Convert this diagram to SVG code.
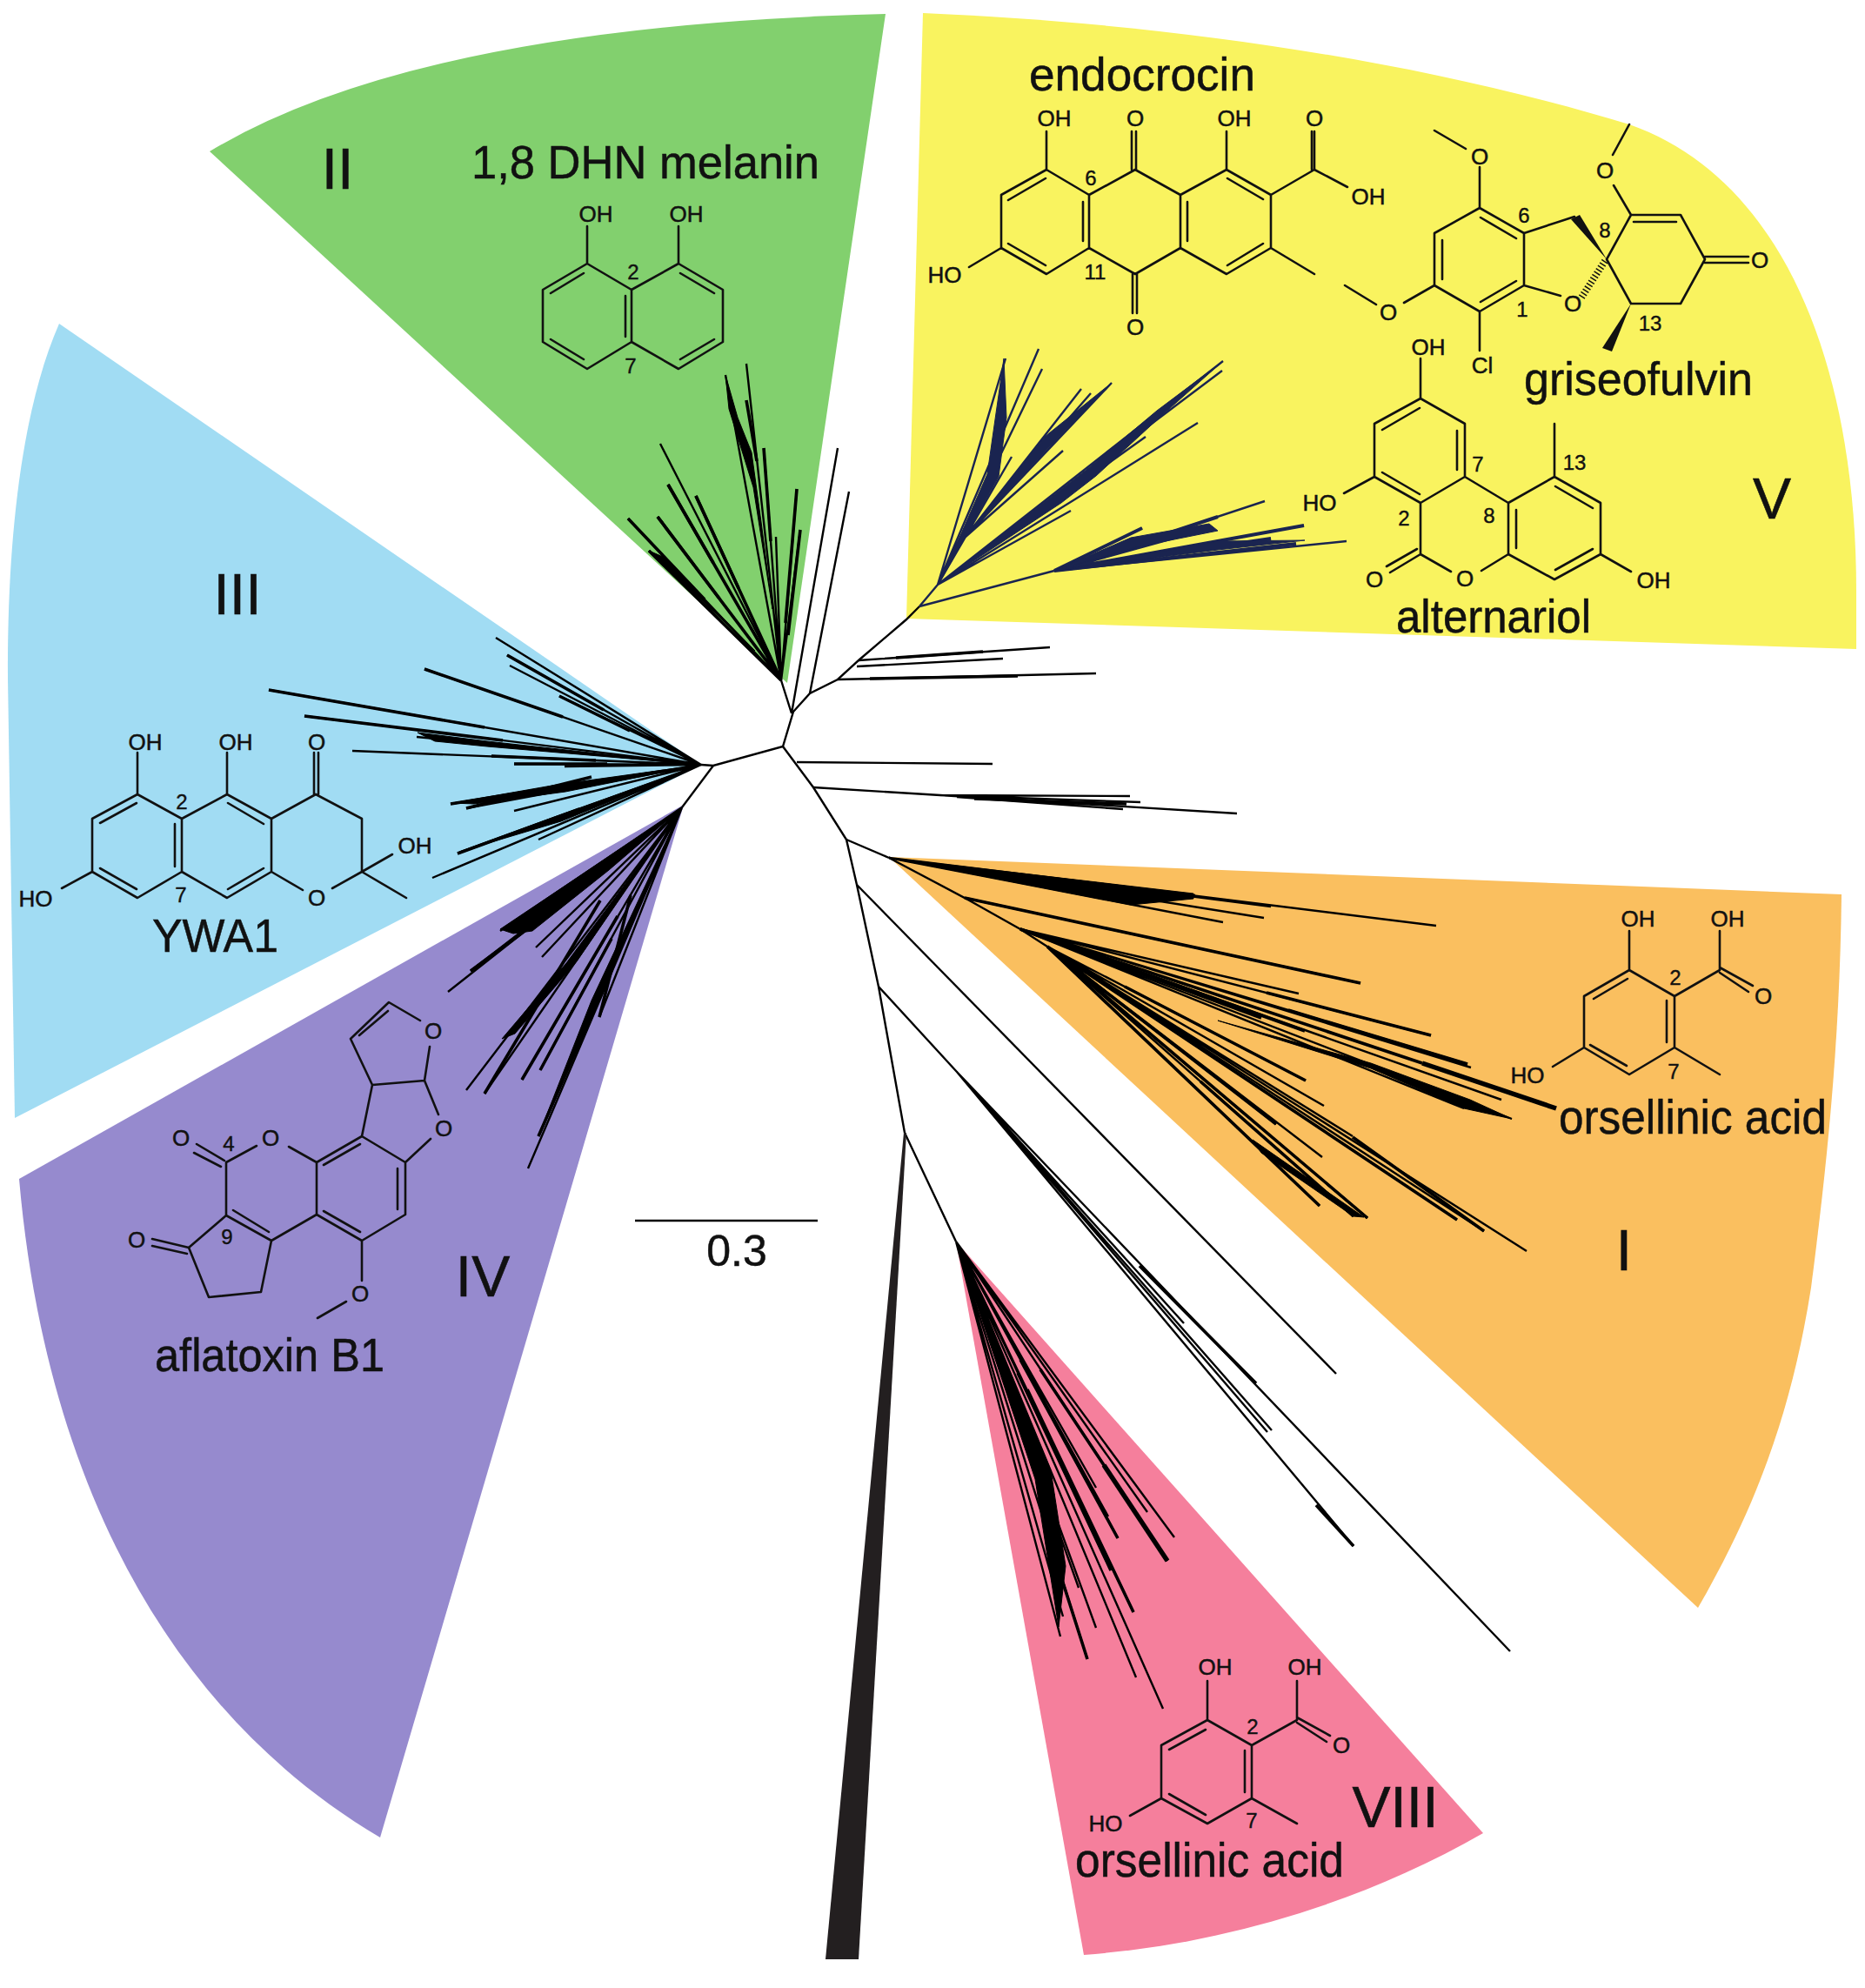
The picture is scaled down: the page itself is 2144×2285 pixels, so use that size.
<svg xmlns="http://www.w3.org/2000/svg" width="2144" height="2285" viewBox="0 0 2144 2285">
<style>
.bg{fill:#fff}
.b{fill:none;stroke:#111;stroke-width:2.6;stroke-linecap:round;stroke-linejoin:round}
.f{fill:#111;stroke:none}
text{font-family:"Liberation Sans",Arial,sans-serif;fill:#111;stroke:#111}
.a{font-size:26px;text-anchor:middle;stroke-width:.5}
.n{font-size:24px;text-anchor:middle;stroke-width:.4}
.h{font-size:54px;stroke-width:.5}
.r{font-size:66px;text-anchor:middle;stroke-width:.6}
.l{fill:none;stroke:#000;stroke-width:2.4}
.m{fill:none;stroke:#000;stroke-width:3.6}
.t{fill:none;stroke:#000;stroke-width:5.5}
.p{fill:#000;stroke:#000;stroke-width:1}
.yl{fill:none;stroke:#1a2450;stroke-width:2.4}
.ym{fill:none;stroke:#1a2450;stroke-width:4}
.yp{fill:#1a2450;stroke:#1a2450;stroke-width:1}
</style>
<rect class="bg" width="2144" height="2285"/>

<g id="clade-II">
<path fill="#82d06e" d="M241,174 Q480,30 1018,16 L905,785 Z"/>
<text class="r" x="388" y="217">II</text>
</g>
<g id="clade-III">
<path fill="#a1dcf3" d="M68,372 C25,470 8,620 9,780 L17,1285 L806,879 Z"/>
<text class="r" x="273" y="706">III</text>
</g>
<g id="clade-IV">
<path fill="#968ace" d="M22,1355 C50,1680 180,1960 437,2112 L786,925 Z"/>
<text class="r" x="555" y="1490">IV</text>
</g>
<g id="clade-V">
<path fill="#f9f35f" d="M1061,15 C1300,25 1600,60 1873,143 C2050,205 2134,420 2134,680 L2134,746 L1042,711 Z"/>
<text class="r" x="2037" y="596">V</text>
</g>
<g id="clade-I">
<path fill="#fabf5f" d="M1022,985 L2117,1028 C2115,1200 2100,1340 2082,1480 C2060,1620 2020,1730 1952,1848 Z"/>
<text class="r" x="1867" y="1460">I</text>
</g>
<g id="clade-VIII">
<path fill="#f57f9c" d="M1099,1427 L1705,2107 C1560,2190 1400,2235 1246,2247 Z"/>
<text class="r" x="1604" y="2100">VIII</text>
</g>

<g id="connectors">
<!-- backbone -->
<path class="l" d="M806,879 L820,880 L900,858 L912,818 L931,797 L963,781 L987,759 L1042,712 L1057,697"/>
<path class="l" d="M900,858 L935,905 L973,965 L985,1017 L1010,1134 L1040,1302 L1099,1427"/>
<path class="l" d="M820,880 L784,928"/>
<path class="l" d="M910,820 L898,782 M910,820 L963,515 M931,797 L976,565"/>
<path class="l" d="M973,965 L1022,986"/>
<path fill="#231f20" d="M1039,1302 L1042,1302 L987,2252 L949,2252 Z"/>
<!-- middle unshaded -->
<path class="l" d="M987,759 L1207,744 M985,766 L1153,757 M963,781 L1260,774"/>
<path class="m" d="M1030,756 L1130,749 M1000,780 L1170,777"/>
<path class="l" d="M916,876 L1141,878 M935,905 L1422,935 M1080,914 L1299,915 M1080,914 L1311,922 M1100,916 L1291,930"/>
<path class="m" d="M1120,918 L1295,924"/>
<!-- long branches -->
<path class="l" d="M985,1017 L1536,1579"/>
<path class="l" d="M1010,1134 L1100,1232 L1361,1521 M1100,1232 L1462,1644 M1100,1232 L1457,1646 M1100,1232 L1556,1777 M1100,1232 L1736,1898"/>
<path class="m" d="M1310,1455 L1444,1590 M1513,1730 L1556,1777"/>
<!-- clade II tree -->
<path class="l" d="M898,782 L858,418 M898,782 L834,431 M898,782 L878,515 M898,782 L916,562 M898,782 L920,609 M898,782 L892,617 M898,782 L759,510 M898,782 L768,557 M898,782 L800,570 M898,782 L756,594 M898,782 L722,596 M898,782 L746,633"/>
<path class="m" d="M820,647 L768,557 M849,676 L800,570 M827,688 L756,594 M810,689 L722,596 M898,782 L746,633 M903,716 L916,562 M906,730 L920,609 M886,622 L878,515 M870,530 L858,460"/>
<path class="m" d="M898,782 L800,570 M898,782 L768,557 M898,782 L756,594"/>
<path class="p" d="M888,700 L866,560 L838,470 L834,431 L848,480 L864,520 L875,600 Z"/>
<path class="p" d="M868,748 L746,633 L762,640 Z"/>
<!-- clade III tree -->
<path class="l" d="M806,879 L570,733 M806,879 L583,753 M806,879 L586,765 M806,879 L643,800 M806,879 L488,769 M806,879 L309,793 M806,879 L350,823 M806,879 L405,863 M806,879 L479,847 M806,879 L565,869 M806,879 L591,878 M806,879 L649,881 M806,879 L518,924 M806,879 L536,929 M806,879 L591,932 M806,879 L526,981 M806,879 L619,965 M806,879 L497,1009"/>
<path class="m" d="M694,816 L583,753 M724,840 L643,800 M647,824 L488,769 M557,836 L309,793 M578,851 L350,823 M685,874 L565,869 M698,878 L591,878 M662,901 L518,924 M666,930 L526,981 M680,893 L536,929"/>
<path class="p" d="M806,879 L560,852 L480,842 L500,852 L560,858 Z"/>
<path class="p" d="M806,879 L640,902 L520,923 L545,924 L650,910 Z"/>
<path class="p" d="M806,879 L640,938 L528,979 L645,944 Z"/>
<!-- clade IV tree -->
<path class="l" d="M784,928 L515,1140 M784,928 L575,1070 M784,928 L541,1116 M784,928 L616,1089 M784,928 L623,1100 M784,928 L536,1253 M784,928 L557,1257 M784,928 L600,1241 M784,928 L621,1230 M784,928 L607,1343 M784,928 L689,1169 M784,928 L619,1306"/>
<path class="m" d="M614,1062 L541,1116 M685,1155 L619,1306 M710,1053 L600,1241 M703,1079 L621,1230 M725,1029 L689,1169 M690,1035 L557,1257"/>
<path class="p" d="M784,928 L575,1068 L590,1073 L612,1070 L700,1000 Z"/>
<path class="p" d="M784,928 L651,1107 L577,1194 L592,1188 L663,1105 Z"/>
<path class="p" d="M784,928 L680,1150 L620,1303 L686,1153 Z"/>
<!-- clade V tree -->
<path class="yl" d="M1057,697 L1078,672 M1078,672 L1156,412 M1078,672 L1194,401 M1078,672 L1198,424 M1078,672 L1163,525 M1078,672 L1110,617 L1243,447 M1110,617 L1278,440 M1110,617 L1254,452 M1110,617 L1222,518"/>
<path class="yl" d="M1078,672 L1406,415 M1078,672 L1405,426 M1078,672 L1377,486 M1078,672 L1317,502 M1078,672 L1231,587"/>
<path class="yl" d="M1057,697 L1212,656"/>
<path class="yl" d="M1212,656 L1454,576 M1212,656 L1499,604 M1212,656 L1461,619 M1212,656 L1548,622 M1212,656 L1313,607 M1212,656 L1349,618"/>
<path class="ym" d="M1212,656 L1400,594 M1212,656 L1499,604 M1212,656 L1461,619 M1212,656 L1490,625 M1212,656 L1313,607 M1212,656 L1349,618"/>
<path class="yp" d="M1212,656 L1300,618 L1390,602 L1400,610 L1310,628 Z"/>
<path class="yp" d="M1212,656 L1400,622 L1500,621 L1400,632 Z"/>
<path class="yp" d="M1080,670 L1135,545 L1154,412 L1157,480 L1148,548 Z"/>
<path class="yp" d="M1110,617 L1201,502 L1278,440 L1210,510 Z"/>
<path class="yp" d="M1078,672 L1215,566 L1250,539 L1330,472 L1406,415 L1335,478 L1260,547 L1220,578 Z"/>
<!-- clade I tree -->
<path class="l" d="M1022,986 L1651,1064 M1022,986 L1461,1042 M1022,986 L1453,1055 M1022,986 L1406,1060 M1022,986 L1374,1029"/>
<path class="l" d="M1022,986 L1109,1032 L1564,1130 M1109,1032 L1173,1068 L1204,1088"/>
<path class="m" d="M1109,1032 L1564,1130"/>
<path class="l" d="M1173,1068 L1493,1142 M1173,1068 L1645,1190 M1173,1068 L1691,1227 M1173,1068 L1687,1223 M1173,1068 L1726,1264 M1173,1068 L1738,1286 M1173,1068 L1683,1274"/>
<path class="m" d="M1456,1141 L1645,1190 M1481,1161 L1687,1223 M1173,1068 L1500,1185 M1173,1068 L1450,1170"/>
<path class="t" d="M1635,1222 L1789,1274"/>
<path class="m" d="M1173,1068 L1635,1222"/>
<path class="l" d="M1204,1088 L1501,1242 M1204,1088 L1522,1271 M1204,1088 L1555,1306 M1204,1088 L1520,1330 M1204,1088 L1467,1292 M1204,1088 L1755,1438 M1204,1088 L1706,1415 M1204,1088 L1675,1402 M1204,1088 L1572,1400 M1204,1088 L1556,1398 M1204,1088 L1517,1386"/>
<path class="m" d="M1204,1088 L1467,1292 M1204,1088 L1572,1400 M1204,1088 L1517,1386 M1380,1243 L1556,1398 M1204,1088 L1675,1402 M1555,1307 L1706,1415 M1293,1134 L1501,1242"/>
<path class="p" d="M1022,986 L1372,1027 L1372,1033 L1300,1040 Z"/>
<path class="p" d="M1400,1173 L1576,1222 L1690,1264 L1738,1286 L1683,1274 L1576,1228 Z"/>
<path class="p" d="M1440,1310 L1568,1399 L1556,1398 L1450,1325 Z"/>
<!-- clade VIII tree -->
<path class="l" d="M1099,1427 L1350,1767 M1099,1427 L1342,1794 M1099,1427 L1319,1738 M1099,1427 L1285,1768 M1099,1427 L1274,1743 M1099,1427 L1260,1710 M1099,1427 L1303,1853 M1099,1427 L1277,1805 M1099,1427 L1260,1871 M1099,1427 L1250,1907 M1099,1427 L1219,1881 M1099,1427 L1222,1858 M1099,1427 L1240,1825 M1099,1427 L1306,1928 M1099,1427 L1337,1964 M1099,1427 L1212,1720 M1099,1427 L1223,1690"/>
<path class="t" d="M1269,1684 L1342,1794"/>
<path class="m" d="M1196,1574 L1342,1794 M1170,1578 L1277,1805 M1173,1563 L1285,1768 M1200,1750 L1250,1907 M1181,1597 L1303,1853"/>
<path class="p" d="M1100,1430 L1190,1700 L1217,1870 L1225,1800 L1208,1690 Z"/>
<!-- scale -->
<path class="l" d="M730,1403 L940,1403"/>
<text class="h" style="font-size:50px" x="847" y="1455" text-anchor="middle">0.3</text>
</g>

<g id="dhn-melanin">
<text class="h" x="542" y="205" textLength="400" lengthAdjust="spacingAndGlyphs">1,8 DHN melanin</text>
<path class="b" d="M675,260 L675,303 L624,333 L624,393 L675,424 L726,393 L726,333 L675,303 M726,333 L780,303 L780,260 M780,303 L831,333 L831,393 L780,424 L726,393"/>
<path class="b" d="M671,314 L633,337 M719,340 L719,387 M633,390 L671,413 M782,314 L821,337 M782,413 L821,390"/>
<text class="a" x="685" y="255">OH</text><text class="a" x="789" y="255">OH</text>
<text class="n" x="728" y="321">2</text><text class="n" x="725" y="429">7</text>
</g>

<g id="endocrocin">
<text class="h" x="1183" y="104" textLength="260" lengthAdjust="spacingAndGlyphs">endocrocin</text>
<path class="b" d="M1203,151 L1203,195 L1151,224 L1151,285 L1203,315 L1252,285 L1252,224 L1203,195 M1252,224 L1305,195 L1357,224 L1357,285 L1305,315 L1252,285 M1357,224 L1410,195 L1461,224 L1461,285 L1410,315 L1357,285 M1410,195 L1410,151 M1461,224 L1511,195 L1549,215 M1461,285 L1511,315 M1151,285 L1114,307 M1511,195 L1511,151 M1508,195 L1508,151"/>
<path class="b" d="M1301,195 L1301,151 M1306,195 L1306,151 M1302,315 L1302,360 M1307,315 L1307,360"/>
<path class="b" d="M1202,205 L1159,230 M1245,232 L1245,277 M1159,280 L1202,305 M1365,232 L1365,277 M1411,205 L1452,229 M1452,280 L1411,305"/>
<text class="a" x="1212" y="145">OH</text><text class="a" x="1305" y="145">O</text><text class="a" x="1419" y="145">OH</text><text class="a" x="1511" y="145">O</text>
<text class="a" x="1573" y="235">OH</text><text class="a" x="1086" y="325">HO</text><text class="a" x="1305" y="385">O</text>
<text class="n" x="1254" y="213">6</text><text class="n" x="1259" y="321">11</text>
</g>

<g id="griseofulvin">
<text class="h" x="1752" y="454" textLength="263" lengthAdjust="spacingAndGlyphs">griseofulvin</text>
<path class="b" d="M1701,192 L1701,239 L1649,268 L1649,328 L1701,358 L1752,328 L1752,268 L1701,239 M1752,268 L1810,249 M1752,328 L1794,340 M1649,328 L1614,348 M1582,350 L1546,328 M1685,171 L1649,150 M1701,358 L1701,403"/>
<path class="b" d="M1702,250 L1743,274 M1658,276 L1658,321 M1702,347 L1743,323"/>
<path class="f" d="M1847,298 L1806,252 L1816,247 Z"/>
<path class="b" d="M1847,298 L1875,247 L1932,247 L1960,298 L1932,349 L1875,349 L1847,298 M1878,255 L1927,255 M1875,247 L1855,213 M1854,178 L1873,143 M1960,295 L2010,295 M1960,302 L2010,302"/>
<path class="f" d="M1875,349 L1842,400 L1853,404 Z"/>
<path stroke="#111" stroke-width="8" stroke-dasharray="1.5 2.5" fill="none" d="M1845,300 L1818,342"/>
<text class="a" x="1701" y="189">O</text><text class="a" x="1845" y="205">O</text><text class="a" x="2023" y="308">O</text><text class="a" x="1596" y="368">O</text><text class="a" x="1808" y="358">O</text><text class="a" x="1704" y="429">Cl</text>
<text class="n" x="1752" y="256">6</text><text class="n" x="1845" y="273">8</text><text class="n" x="1750" y="364">1</text><text class="n" x="1897" y="380">13</text>
</g>

<g id="alternariol">
<text class="h" x="1605" y="727" textLength="224" lengthAdjust="spacingAndGlyphs">alternariol</text>
<path class="b" d="M1633,412 L1633,458 L1580,487 L1580,548 L1633,578 L1684,548 L1684,487 L1633,458 M1684,548 L1734,578 L1787,548 L1840,578 L1840,637 L1787,666 L1734,637 L1734,578 M1633,578 L1633,637 L1668,657 M1703,656 L1734,637 M1633,637 L1598,658 M1629,631 L1594,651 M1787,548 L1787,487 M1580,548 L1545,567 M1840,637 L1875,657"/>
<path class="b" d="M1632,469 L1589,494 M1675,495 L1675,540 M1589,543 L1632,568 M1788,559 L1831,584 M1743,586 L1743,630 M1788,655 L1831,631"/>
<text class="a" x="1642" y="408">OH</text><text class="a" x="1517" y="587">HO</text><text class="a" x="1580" y="675">O</text><text class="a" x="1684" y="674">O</text><text class="a" x="1901" y="676">OH</text>
<text class="n" x="1699" y="542">7</text><text class="n" x="1810" y="540">13</text><text class="n" x="1614" y="604">2</text><text class="n" x="1712" y="601">8</text>
</g>

<g id="ywa1">
<text class="h" x="175" y="1094" textLength="145" lengthAdjust="spacingAndGlyphs">YWA1</text>
<path class="b" d="M158,865 L158,913 L106,941 L106,1002 L158,1032 L209,1002 L209,941 L158,913 M209,941 L261,913 L312,941 L312,1002 L261,1032 L209,1002 M261,913 L261,865 M312,941 L363,913 L416,941 L416,1002 L382,1021 M312,1002 L348,1023 M416,1002 L451,982 M416,1002 L467,1032 M106,1002 L71,1021 M361,913 L361,865 M366,913 L366,865"/>
<path class="b" d="M157,923 L115,946 M201,947 L201,996 M115,998 L157,1022 M262,923 L303,947 M262,1022 L303,998"/>
<text class="a" x="167" y="862">OH</text><text class="a" x="271" y="862">OH</text><text class="a" x="364" y="862">O</text><text class="a" x="41" y="1042">HO</text><text class="a" x="477" y="981">OH</text><text class="a" x="364" y="1041">O</text>
<text class="n" x="209" y="930">2</text><text class="n" x="208" y="1037">7</text>
</g>

<g id="aflatoxin">
<text class="h" x="178" y="1576" textLength="264" lengthAdjust="spacingAndGlyphs">aflatoxin B1</text>
<path class="b" d="M364,1336 L416,1306 L466,1336 L466,1396 L416,1426 L364,1396 L364,1336 M416,1306 L428,1247 L488,1242 L504,1281 M495,1309 L466,1336 M428,1247 L403,1194 L447,1152 L483,1173 M488,1242 L494,1203 M364,1336 L332,1318 M295,1317 L260,1336 L260,1397 L312,1426 L364,1396 M260,1397 L217,1434 L240,1491 L300,1485 L312,1426 M416,1426 L416,1472 M398,1496 L365,1515"/>
<path class="b" d="M226,1315 L258,1334 M223,1325 L254,1341 M175,1424 L217,1434 M175,1432 L215,1441"/>
<path class="b" d="M372,1339 L414,1315 M457,1343 L457,1390 M372,1392 L414,1416 M413,1190 L446,1162 M268,1391 L309,1416"/>
<text class="a" x="498" y="1194">O</text><text class="a" x="510" y="1306">O</text><text class="a" x="311" y="1317">O</text><text class="a" x="208" y="1317">O</text><text class="a" x="157" y="1434">O</text><text class="a" x="414" y="1496">O</text>
<text class="n" x="263" y="1323">4</text><text class="n" x="261" y="1430">9</text>
</g>

<g id="orsellinic-I">
<text class="h" style="font-size:55px" x="1792" y="1303" textLength="308" lengthAdjust="spacingAndGlyphs">orsellinic acid</text>
<path class="b" d="M1873,1070 L1873,1115 L1821,1145 L1821,1204 L1873,1235 L1925,1204 L1925,1145 L1873,1115 M1925,1145 L1977,1115 L1977,1070 M1977,1112 L2015,1133 M1977,1118 L2010,1140 M1925,1204 L1977,1235 M1821,1204 L1785,1226"/>
<path class="b" d="M1832,1148 L1871,1125 M1916,1150 L1916,1198 M1828,1201 L1870,1225"/>
<text class="a" x="1883" y="1065">OH</text><text class="a" x="1986" y="1065">OH</text><text class="a" x="2027" y="1154">O</text><text class="a" x="1756" y="1245">HO</text>
<text class="n" x="1926" y="1132">2</text><text class="n" x="1924" y="1240">7</text>
</g>

<g id="orsellinic-VIII">
<text class="h" style="font-size:55px" x="1236" y="2157" textLength="309" lengthAdjust="spacingAndGlyphs">orsellinic acid</text>
<path class="b" d="M1388,1932 L1388,1977 L1335,2006 L1335,2067 L1388,2096 L1439,2067 L1439,2006 L1388,1977 M1439,2006 L1491,1977 L1491,1932 M1491,1974 L1529,1995 M1491,1980 L1525,2002 M1439,2067 L1491,2096 M1335,2067 L1299,2087"/>
<path class="b" d="M1386,1988 L1344,2011 M1431,2012 L1431,2060 M1344,2062 L1386,2086"/>
<text class="a" x="1397" y="1925">OH</text><text class="a" x="1500" y="1925">OH</text><text class="a" x="1542" y="2015">O</text><text class="a" x="1271" y="2105">HO</text>
<text class="n" x="1440" y="1993">2</text><text class="n" x="1439" y="2101">7</text>
</g>
</svg>
